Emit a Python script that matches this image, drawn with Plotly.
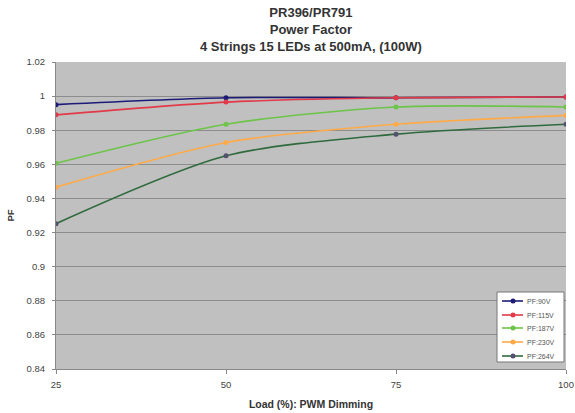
import plotly.graph_objects as go

load = [25, 50, 75, 100]
series_names = ["PF:90V", "PF:115V", "PF:187V", "PF:230V", "PF:264V"]
pf_90 = [0.995, 0.999, 0.999, 0.9995]
pf_115 = [0.989, 0.9965, 0.999, 0.9995]
pf_187 = [0.9606, 0.9835, 0.9936, 0.9936]
pf_230 = [0.9466, 0.9728, 0.9835, 0.9887]
pf_264 = [0.9252, 0.9650, 0.9777, 0.9835]
y_ticks = [0.84, 0.86, 0.88, 0.9, 0.92, 0.94, 0.96, 0.98, 1, 1.02]
y_tick_text = ["0.84", "0.86", "0.88", "0.9", "0.92", "0.94", "0.96", "0.98", "1", "1.02"]
title_lines = ["PR396/PR791", "Power Factor", "4 Strings 15 LEDs at 500mA, (100W)"]

line_colors = ["#1c1c78", "#e23a48", "#6cc448", "#ffaa48", "#2f6a3c"]
marker_colors = ["#1c1c78", "#e23a48", "#6cc448", "#ffaa48", "#555070"]

W, H = 575, 413
ML, MR, MT, MB = 56, 9, 62, 44
PW, PH = W - ML - MR, H - MT - MB


def px(x):
    return (x - ML) / PW


def py(y):
    return (H - MB - y) / PH


fig = go.Figure()
for name, vals, lc, mc in zip(series_names, [pf_90, pf_115, pf_187, pf_230, pf_264], line_colors, marker_colors):
    fig.add_trace(go.Scatter(
        x=load, y=vals, name=name, mode="lines+markers",
        line=dict(color=lc, width=1.6, shape="spline", smoothing=0.8),
        marker=dict(color=mc, size=5, symbol="circle"),
        showlegend=False,
    ))

# custom compact legend (box, sample lines, markers, labels)
shapes = [dict(type="rect", xref="paper", yref="paper",
               x0=px(497), x1=px(564), y0=py(362), y1=py(292),
               fillcolor="white", line=dict(color="#777777", width=1), layer="above")]
annotations = []
row_y = [301, 315, 328, 342, 356]
for name, lc, mc, ry in zip(series_names, line_colors, marker_colors, row_y):
    shapes.append(dict(type="line", xref="paper", yref="paper",
                       x0=px(502), x1=px(523), y0=py(ry), y1=py(ry),
                       line=dict(color=lc, width=1.6), layer="above"))
    shapes.append(dict(type="circle", xref="paper", yref="paper",
                       x0=px(510.5), x1=px(515.5), y0=py(ry + 2.5), y1=py(ry - 2.5),
                       fillcolor=mc, line=dict(color=mc, width=0), layer="above"))
    annotations.append(dict(text=name, xref="paper", yref="paper",
                            x=px(525), y=py(ry), xanchor="left", yanchor="middle",
                            showarrow=False, font=dict(size=7, color="#555555")))

# title as annotation (three lines)
annotations.append(dict(
    text="<b>" + "<br>".join(title_lines) + "</b>",
    xref="paper", yref="paper", x=0.5, y=py(3), xanchor="center", yanchor="top",
    showarrow=False, align="center",
    font=dict(size=13, color="#333333", family="Liberation Sans, Arial, sans-serif"),
))

fig.update_layout(
    width=W, height=H,
    margin=dict(l=ML, r=MR, t=MT, b=MB),
    paper_bgcolor="white",
    plot_bgcolor="#c0c0c0",
    font=dict(family="Liberation Sans, Arial, sans-serif", size=9, color="#444444"),
    xaxis=dict(
        range=[25, 100], tickvals=load, ticktext=[str(v) for v in load],
        showgrid=False, zeroline=False, showline=True, linecolor="#888888",
        ticks="outside", ticklen=4, tickcolor="#888888", automargin=False,
        ticklabelstandoff=3,
        tickfont=dict(size=9.5, color="#444444"),
        title=dict(text="<b>Load (%): PWM Dimming</b>", font=dict(size=10.5, color="#333333"), standoff=11),
    ),
    yaxis=dict(
        range=[0.84, 1.02], tickvals=y_ticks, ticktext=y_tick_text,
        showgrid=True, gridcolor="#8c8c8c", gridwidth=1, zeroline=False,
        showline=True, linecolor="#888888", ticks="outside", ticklen=3, tickcolor="#888888",
        automargin=False, ticklabelstandoff=5, tickfont=dict(size=9.5, color="#444444"),
        title=dict(text="<b>PF</b>", font=dict(size=9.5, color="#333333"), standoff=10),
    ),
    shapes=shapes,
    annotations=annotations,
    showlegend=False,
)

fig.write_html("out.html", config={"displayModeBar": False},
               post_script="document.body.style.margin='0';")
